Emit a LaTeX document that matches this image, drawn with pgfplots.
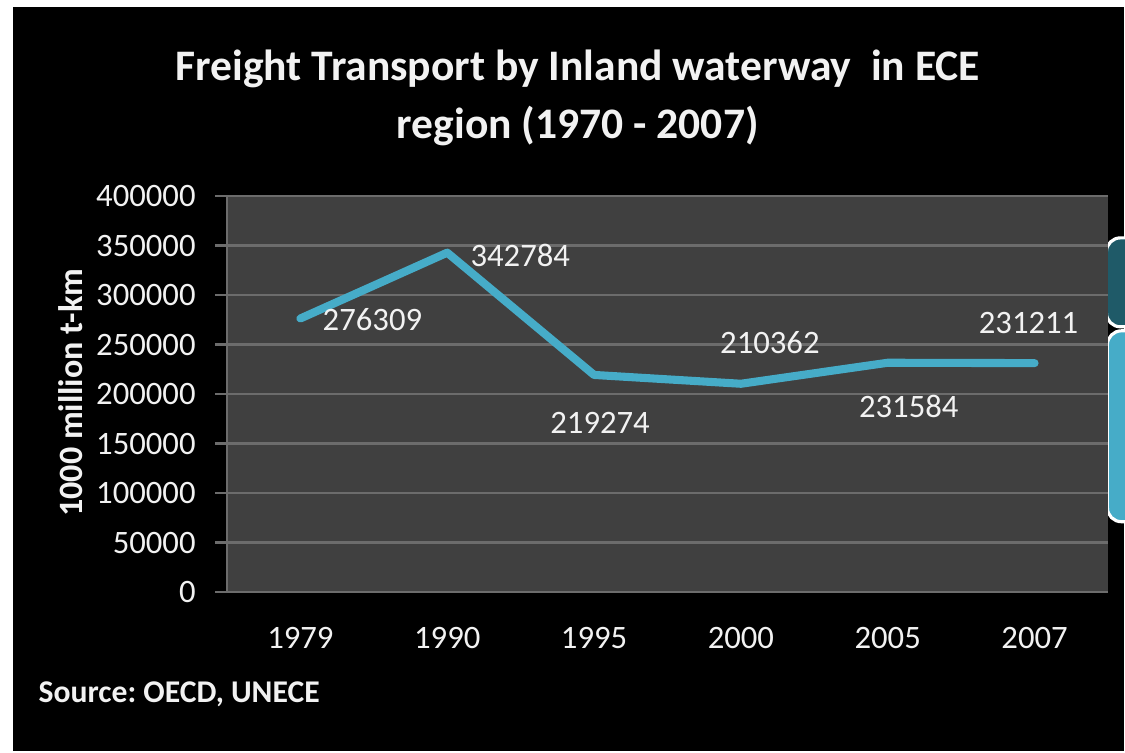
\documentclass[border=0pt]{standalone}
\usepackage{pgfplots}
\pgfplotsset{compat=1.18}
\usepackage{fontspec}
\setmainfont{Carlito}
\frenchspacing
\definecolor{bgplot}{RGB}{64,64,64}
\definecolor{gridc}{RGB}{108,108,108}
\definecolor{lineblue}{RGB}{70,172,200}
\definecolor{darkteal}{RGB}{31,90,104}
\definecolor{txt}{RGB}{242,242,242}
\begin{document}
\begin{tikzpicture}
\useasboundingbox (0,0) rectangle (11.25cm,7.52cm);
\clip (0,0) rectangle (11.25cm,7.52cm);
\fill[white] (0,0) rectangle (11.25cm,7.52cm);
\begin{scope}[x=0.01cm,y=-0.01cm,shift={(0cm,7.52cm)}]
\fill[black] (13,7) rectangle (1125,751);
\draw[white, line width=0.9pt, fill=darkteal, rounded corners=4pt] (1107,238) rectangle (1170,327);
\draw[white, line width=0.9pt, fill=lineblue, rounded corners=4pt] (1108,331) rectangle (1170,522);
\node[txt, font=\bfseries\fontsize{12.4}{16.3}\selectfont, align=center] at (578,98) {Freight Transport by Inland waterway~ in ECE\\region (1970 - 2007)};
\node[txt, font=\bfseries\fontsize{9}{11}\selectfont, anchor=west, inner sep=0pt] at (38,695) {Source: OECD, UNECE};
\node[txt, font=\bfseries\fontsize{9.7}{11}\selectfont, rotate=90] at (71,393) {1000 million t-km};
\end{scope}
\begin{axis}[at={(2.27cm,1.60cm)}, anchor=south west, scale only axis,
  width=8.81cm, height=3.96cm,
  xmin=-0.5, xmax=5.5, ymin=0, ymax=400000,
  xtick={0,1,2,3,4,5}, xticklabels={1979,1990,1995,2000,2005,2007},
  ytick={0,50000,100000,150000,200000,250000,300000,350000,400000},
  yticklabels={0,50000,100000,150000,200000,250000,300000,350000,400000},
  scaled y ticks=false,
  axis background/.style={fill=bgplot},
  axis x line*=bottom, axis y line*=left,
  axis line style={-, draw=gridc, line width=0.7pt},
  ymajorgrids, grid style={draw=gridc, line width=0.7pt},
  tick align=outside, major tick length=0.12cm,
  xtick style={draw=none}, ytick style={draw=gridc, line width=0.7pt},
  tick label style={txt, font=\fontsize{9.3}{11}\selectfont},
  xticklabel style={yshift=-0.11cm},
  yticklabel style={xshift=-0.07cm},
]
\addplot[lineblue, line width=2.3pt, line join=round, line cap=round]
  coordinates {(0,276309)(1,342784)(2,219274)(3,210362)(4,231584)(5,231211)};
\node[txt, font=\fontsize{9.3}{11}\selectfont, xshift=0.72cm, yshift=-0.015cm] at (axis cs:0,276309) {276309};
\node[txt, font=\fontsize{9.3}{11}\selectfont, xshift=0.73cm, yshift=-0.024cm] at (axis cs:1,342784) {342784};
\node[txt, font=\fontsize{9.3}{11}\selectfont, xshift=0.06cm, yshift=-0.48cm] at (axis cs:2,219274) {219274};
\node[txt, font=\fontsize{9.3}{11}\selectfont, xshift=0.29cm, yshift=0.41cm] at (axis cs:3,210362) {210362};
\node[txt, font=\fontsize{9.3}{11}\selectfont, xshift=0.21cm, yshift=-0.44cm] at (axis cs:4,231584) {231584};
\node[txt, font=\fontsize{9.3}{11}\selectfont, xshift=-0.06cm, yshift=0.40cm] at (axis cs:5,231211) {231211};
\end{axis}
\end{tikzpicture}
\end{document}
